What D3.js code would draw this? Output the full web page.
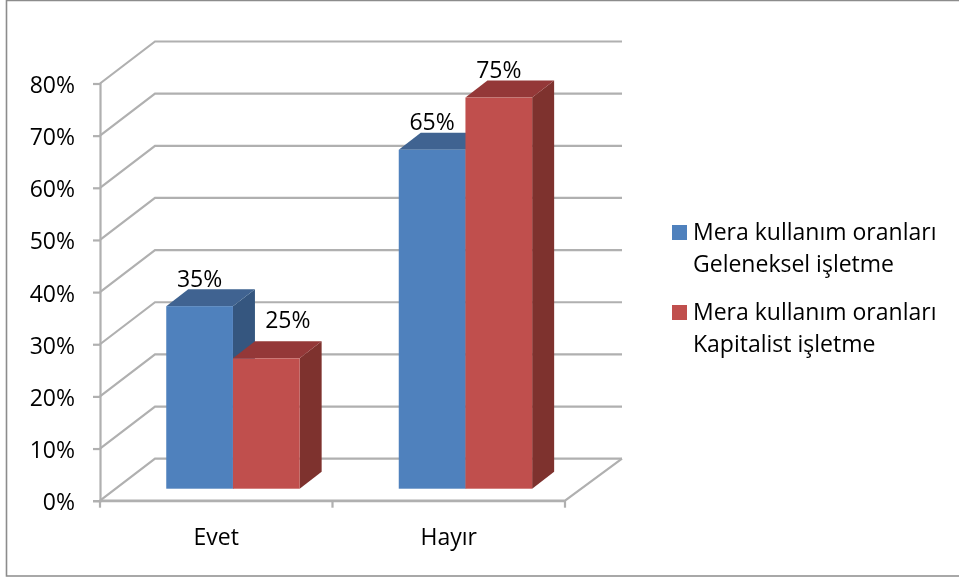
<!DOCTYPE html>
<html>
<head>
<meta charset="utf-8">
<script src="https://cdn.jsdelivr.net/npm/d3@7"></script>
<style>
html, body { margin: 0; padding: 0; background: #fff; }
svg { display: block; }
text { font-family: "Open Sans", sans-serif; fill: #000; }
</style>
</head>
<body>
<script>
var categories = ["Evet", "Hayır"];
var seriesNames = [
    ["Mera kullanım oranları", "Geleneksel işletme"],
    ["Mera kullanım oranları", "Kapitalist işletme"]
];
var geleneksel = [35, 65];
var kapitalist = [25, 75];
var yTicks = [0, 10, 20, 30, 40, 50, 60, 70, 80];

var width = 959;
var height = 578;
var fontSize = 23;

var colors = [
    {front: "#4F81BD", top: "#3F6491", side: "#34577F"},
    {front: "#C0504D", top: "#943937", side: "#7E302E"}
];
var gridColor = "#B0B0B0";

var svg = d3.select("body")
    .append("svg")
    .attr("width", width)
    .attr("height", height);

svg.append("rect")
    .attr("width", width)
    .attr("height", height)
    .attr("fill", "#ffffff");

// the picture is a little soft, like a scaled screenshot
svg.append("defs")
    .append("filter")
    .attr("id", "soft")
    .attr("x", 0)
    .attr("y", 0)
    .attr("width", "100%")
    .attr("height", "100%")
    .attr("filterUnits", "userSpaceOnUse")
    .append("feGaussianBlur")
    .attr("stdDeviation", 0.45);

var root = svg.append("g").attr("filter", "url(#soft)");

// chart border, the right side is cut off by the picture
root.append("path")
    .attr("d", d3.line()([[959, 0.5], [6.5, 0.5], [6.5, 576], [959, 576]]))
    .attr("fill", "none")
    .attr("stroke", "#8C8C8C")
    .attr("stroke-width", 1.6);

var y = d3.scaleLinear().domain([0, 80]).range([500.7, 83.5]);
var x = d3.scaleBand().domain(categories).range([100, 565]);
var seriesX = d3.scaleBand().domain([0, 1]).range([0, 133.4]);

var wallDx = 55;   // depth of the back wall
var wallDy = 42;
var baseDx = 16.7; // where the bars stand on the floor
var baseDy = 12;
var barDx = 22;    // depth of one bar
var barDy = 17;

var line = d3.line();

// back wall grid lines, with the piece on the left wall
var grid = root.append("g").attr("class", "grid");

grid.selectAll("path")
    .data(yTicks)
    .enter()
    .append("path")
    .attr("d", function(d) {
        return line([[100, y(d)], [100 + wallDx, y(d) - wallDy], [565 + wallDx + 2, y(d) - wallDy]]);
    })
    .attr("fill", "none")
    .attr("stroke", gridColor)
    .attr("stroke-width", 2.2);

// front of the floor
grid.append("path")
    .attr("d", line([[100, y(0)], [565, y(0)], [565 + wallDx + 2, y(0) - wallDy]]))
    .attr("fill", "none")
    .attr("stroke", gridColor)
    .attr("stroke-width", 2.2);

// axes
var axisY = root.append("g")
    .attr("transform", "translate(100,0)")
    .call(d3.axisLeft(y).tickValues(yTicks).tickSize(7).tickPadding(18).tickFormat(function(d) { return d + "%"; }));
axisY.selectAll("line, path").attr("stroke", gridColor).attr("stroke-width", 2.2);
axisY.selectAll("text")
    .attr("font-size", fontSize)
    .attr("font-family", "'Open Sans', sans-serif")
    .attr("dy", "0.39em");

var axisX = root.append("g")
    .attr("transform", "translate(0," + y(0) + ")")
    .call(d3.axisBottom(x).tickValues([]).tickSize(0));
axisX.select("path").attr("stroke", gridColor).attr("stroke-width", 2.2);

axisX.selectAll("line.sep")
    .data([100, 332.5, 565])
    .enter()
    .append("line")
    .attr("class", "sep")
    .attr("x1", function(d) { return d; })
    .attr("x2", function(d) { return d; })
    .attr("y1", 0)
    .attr("y2", 7)
    .attr("stroke", gridColor)
    .attr("stroke-width", 2.2);

root.selectAll("text.cat")
    .data(categories)
    .enter()
    .append("text")
    .attr("class", "cat")
    .attr("x", function(d) { return x(d) + x.bandwidth() / 2; })
    .attr("y", 545)
    .attr("text-anchor", "middle")
    .attr("font-size", fontSize)
    .text(function(d) { return d; });

// bars
var bars = [];
categories.forEach(function(c, i) {
    bars.push({cat: c, s: 0, v: geleneksel[i]});
    bars.push({cat: c, s: 1, v: kapitalist[i]});
});

var barG = root.append("g")
    .selectAll("g")
    .data(bars)
    .enter()
    .append("g");

function barLeft(d) {
    return x(d.cat) + x.bandwidth() / 2 + baseDx - seriesX.bandwidth() + seriesX(d.s);
}
function barRight(d) { return barLeft(d) + seriesX.bandwidth(); }
function barBase() { return y(0) - baseDy; }
function barTop(d) { return y(d.v) - baseDy; }

barG.append("path")
    .attr("fill", function(d) { return colors[d.s].side; })
    .attr("d", function(d) {
        return line([[barRight(d), barBase()], [barRight(d) + barDx, barBase() - barDy],
            [barRight(d) + barDx, barTop(d) - barDy], [barRight(d), barTop(d)]]) + "Z";
    });

barG.append("path")
    .attr("fill", function(d) { return colors[d.s].top; })
    .attr("d", function(d) {
        return line([[barLeft(d), barTop(d)], [barLeft(d) + barDx, barTop(d) - barDy],
            [barRight(d) + barDx, barTop(d) - barDy], [barRight(d), barTop(d)]]) + "Z";
    });

barG.append("rect")
    .attr("fill", function(d) { return colors[d.s].front; })
    .attr("x", barLeft)
    .attr("y", barTop)
    .attr("width", seriesX.bandwidth())
    .attr("height", function(d) { return barBase() - barTop(d); });

// value labels go after all bars so no bar covers them
// the 25% label was moved by hand in the original, clear of the taller bar
root.append("g")
    .selectAll("text")
    .data(bars)
    .enter()
    .append("text")
    .attr("x", function(d) { return (barLeft(d) + barRight(d)) / 2 + (d.s === 1 && d.v < 50 ? 21.5 : 0); })
    .attr("y", function(d) { return barTop(d) - (d.s === 1 && d.v < 50 ? 30 : 19.5); })
    .attr("text-anchor", "middle")
    .attr("font-size", fontSize)
    .text(function(d) { return d.v + "%"; });

// legend
var legend = root.append("g")
    .selectAll("g")
    .data(seriesNames)
    .enter()
    .append("g");

legend.append("rect")
    .attr("x", 672)
    .attr("y", function(d, i) { return 225 + i * 80; })
    .attr("width", 15)
    .attr("height", 15)
    .attr("fill", function(d, i) { return colors[i].front; });

legend.append("text")
    .attr("x", 693)
    .attr("y", function(d, i) { return 240 + i * 80; })
    .attr("font-size", fontSize)
    .text(function(d) { return d[0]; });

legend.append("text")
    .attr("x", 693)
    .attr("y", function(d, i) { return 272 + i * 80; })
    .attr("font-size", fontSize)
    .text(function(d) { return d[1]; });
</script>
</body>
</html>
